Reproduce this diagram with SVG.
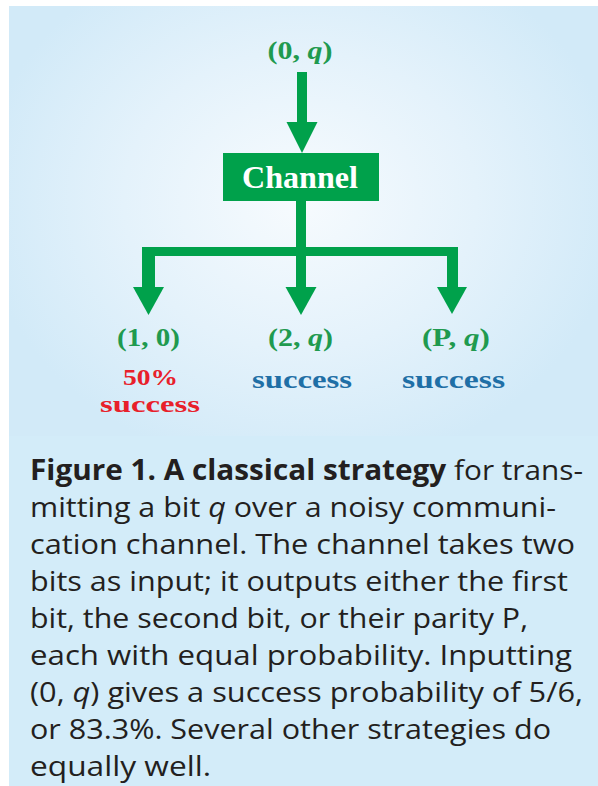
<svg xmlns="http://www.w3.org/2000/svg" width="598" height="786" viewBox="0 0 598 786">
  <defs>
    <radialGradient id="glow" gradientUnits="userSpaceOnUse" cx="300" cy="200" r="320" gradientTransform="translate(300 200) scale(1 0.85) translate(-300 -200)">
      <stop offset="0" stop-color="#f7fbfe"/>
      <stop offset="0.55" stop-color="#e4f2fb"/>
      <stop offset="1" stop-color="#d2eaf8"/>
    </radialGradient>
    <style>
      .arrow { fill: #00a14b; }
      .lbl { font-family: "Liberation Serif", "Times New Roman", serif; font-weight: bold; font-size: 25px; fill: #1f9a4f; text-anchor: middle; }
      .it { font-style: italic; }
      .red { font-family: "Liberation Serif", "Times New Roman", serif; font-weight: bold; font-size: 24px; fill: #e8202a; text-anchor: middle; }
      .blue { font-family: "Liberation Serif", "Times New Roman", serif; font-weight: bold; font-size: 26px; fill: #1f6fa6; text-anchor: middle; }
      .cap { font-family: "Open Sans", "Liberation Sans", sans-serif; font-size: 28px; fill: #231f20; }
      .b { font-weight: bold; }
    </style>
  </defs>

  <rect x="0" y="0" width="598" height="786" fill="#ffffff"/>
  <rect x="9" y="6" width="589" height="780" fill="#d3ecf9"/>
  <rect x="9" y="6" width="589" height="430" fill="url(#glow)"/>

  <g id="connectors">
    <rect class="arrow" x="297" y="72" width="10" height="52"/>
    <polygon class="arrow" points="286.5,122 317.5,122 302,153"/>
    <rect class="arrow" x="296" y="200" width="10" height="56"/>
    <rect class="arrow" x="142" y="247" width="316" height="9"/>
    <rect class="arrow" x="142" y="247" width="13" height="42"/>
    <polygon class="arrow" points="133,287 164,287 148.5,315"/>
    <rect class="arrow" x="296" y="247" width="10" height="42"/>
    <polygon class="arrow" points="285.5,287 316.5,287 301,315"/>
    <rect class="arrow" x="447" y="247" width="11" height="42"/>
    <polygon class="arrow" points="437,287 467,287 452,314"/>
  </g>

  <g id="input">
    <text class="lbl" x="300" y="59" textLength="65" lengthAdjust="spacingAndGlyphs">(0, <tspan class="it">q</tspan>)</text>
  </g>

  <g id="channel">
    <rect x="223" y="153" width="156" height="48" fill="#00a14b"/>
    <text x="300" y="188" font-family="Liberation Serif, Times New Roman, serif" font-weight="bold" font-size="31" fill="#ffffff" text-anchor="middle" textLength="116" lengthAdjust="spacingAndGlyphs">Channel</text>
  </g>

  <g id="out1">
    <text class="lbl" x="148.5" y="346" textLength="63" lengthAdjust="spacingAndGlyphs">(1, 0)</text>
    <text class="red" x="150.5" y="385" textLength="55" lengthAdjust="spacingAndGlyphs">50%</text>
    <text class="red" x="150" y="412" textLength="100" lengthAdjust="spacingAndGlyphs">success</text>
  </g>

  <g id="out2">
    <text class="lbl" x="300.5" y="346" textLength="65" lengthAdjust="spacingAndGlyphs">(2, <tspan class="it">q</tspan>)</text>
    <text class="blue" x="302" y="388" textLength="100" lengthAdjust="spacingAndGlyphs">success</text>
  </g>

  <g id="out3">
    <text class="lbl" x="456" y="346" textLength="68" lengthAdjust="spacingAndGlyphs">(P, <tspan class="it">q</tspan>)</text>
    <text class="blue" x="453.5" y="388" textLength="103" lengthAdjust="spacingAndGlyphs">success</text>
  </g>

  <g id="caption">
    <text class="cap" x="30" y="480" textLength="553" lengthAdjust="spacingAndGlyphs"><tspan class="b">Figure 1. A classical strategy</tspan> for trans-</text>
    <text class="cap" x="30" y="517" textLength="526" lengthAdjust="spacingAndGlyphs">mitting a bit <tspan class="it">q</tspan> over a noisy communi-</text>
    <text class="cap" x="30" y="554" textLength="545" lengthAdjust="spacingAndGlyphs">cation channel. The channel takes two</text>
    <text class="cap" x="30" y="591" textLength="538" lengthAdjust="spacingAndGlyphs">bits as input; it outputs either the first</text>
    <text class="cap" x="30" y="628" textLength="498" lengthAdjust="spacingAndGlyphs">bit, the second bit, or their parity P,</text>
    <text class="cap" x="30" y="665" textLength="542" lengthAdjust="spacingAndGlyphs">each with equal probability. Inputting</text>
    <text class="cap" x="30" y="702" textLength="553" lengthAdjust="spacingAndGlyphs">(0, <tspan class="it">q</tspan>) gives a success probability of 5/6,</text>
    <text class="cap" x="30" y="739" textLength="521" lengthAdjust="spacingAndGlyphs">or 83.3%. Several other strategies do</text>
    <text class="cap" x="30" y="776" textLength="181" lengthAdjust="spacingAndGlyphs">equally well.</text>
  </g>
</svg>
